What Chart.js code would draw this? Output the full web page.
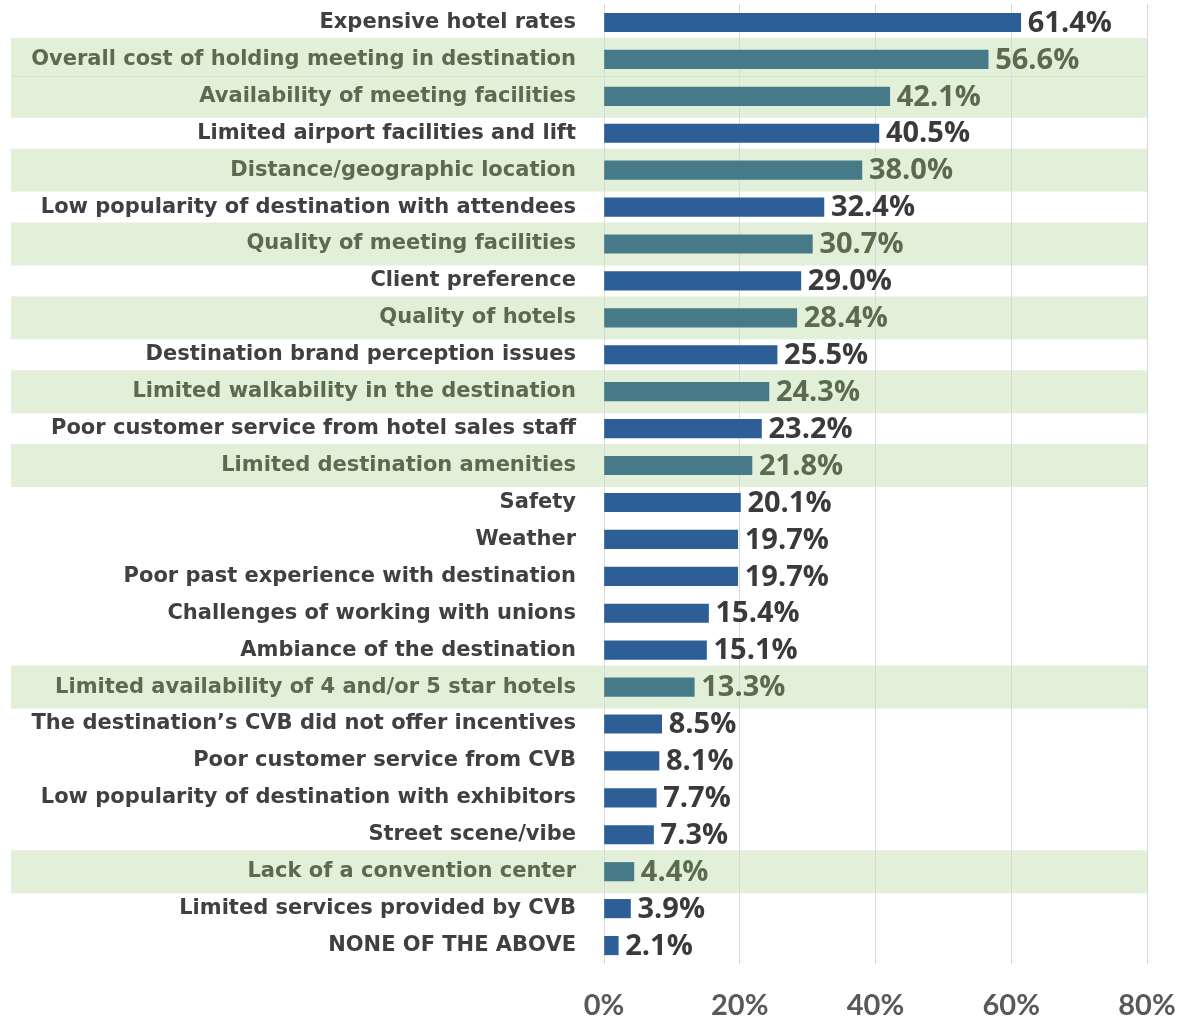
<!DOCTYPE html>
<html>
<head>
<meta charset="utf-8">
<script src="https://cdn.jsdelivr.net/npm/chart.js@4"></script>
<style>
    body { margin: 0; background: #fff; }
    #wrap { width: 1179px; height: 1023px; position: relative; }
</style>
</head>
<body>
<div id="wrap"><canvas id="reasonsChart"></canvas></div>
<script>
const categories = [
    "Expensive hotel rates",
    "Overall cost of holding meeting in destination",
    "Availability of meeting facilities",
    "Limited airport facilities and lift",
    "Distance/geographic location",
    "Low popularity of destination with attendees",
    "Quality of meeting facilities",
    "Client preference",
    "Quality of hotels",
    "Destination brand perception issues",
    "Limited walkability in the destination",
    "Poor customer service from hotel sales staff",
    "Limited destination amenities",
    "Safety",
    "Weather",
    "Poor past experience with destination",
    "Challenges of working with unions",
    "Ambiance of the destination",
    "Limited availability of 4 and/or 5 star hotels",
    "The destination\u2019s CVB did not offer incentives",
    "Poor customer service from CVB",
    "Low popularity of destination with exhibitors",
    "Street scene/vibe",
    "Lack of a convention center",
    "Limited services provided by CVB",
    "NONE OF THE ABOVE",
];
const percents = [61.4, 56.6, 42.1, 40.5, 38.0, 32.4, 30.7, 29.0, 28.4, 25.5, 24.3, 23.2, 21.8,
    20.1, 19.7, 19.7, 15.4, 15.1, 13.3, 8.5, 8.1, 7.7, 7.3, 4.4, 3.9, 2.1];
// rows shaded green in the original
const highlighted = [false, true, true, false, true, false, true, false, true, false, true, false, true,
    false, false, false, false, false, true, false, false, false, false, true, false, false];
const xTicks = [0, 20, 40, 60, 80];

const BLUE = "#2d5f96";
const TEAL = "#477a88";
const BAND = "#e3f0d9";
const TEXT_DARK = "#404040";
const TEXT_GREEN = "#5b6b4d";

// green row shading, painted before the axes so labels sit on top
const rowBands = {
    id: "rowBands",
    beforeDraw(chart) {
        const { ctx, scales: { x, y } } = chart;
        const step = y.getPixelForValue(1) - y.getPixelForValue(0);
        const h = 43;
        const right = x.getPixelForValue(80);
        ctx.save();
        highlighted.forEach((on, i) => {
            if (!on) return;
            const cy = y.getPixelForValue(i);
            ctx.fillStyle = BAND;
            ctx.fillRect(11, cy - h / 2, right - 11, h);
        });
        highlighted.forEach((on, i) => {
            if (!on || !highlighted[i - 1]) return;
            const yy = Math.round(y.getPixelForValue(i) - step / 2 - 2) + 0.5;
            ctx.strokeStyle = "#d3e6c6";
            ctx.lineWidth = 1;
            ctx.beginPath();
            ctx.moveTo(11, yy);
            ctx.lineTo(right, yy);
            ctx.stroke();
        });
        ctx.restore();
    },
};

const valueLabels = {
    id: "valueLabels",
    afterDatasetsDraw(chart) {
        const { ctx } = chart;
        const meta = chart.getDatasetMeta(0);
        ctx.save();
        ctx.font = "700 29px 'Open Sans'";
        ctx.textAlign = "left";
        ctx.textBaseline = "middle";
        meta.data.forEach((bar, i) => {
            ctx.fillStyle = highlighted[i] ? TEXT_GREEN : "#3a3a3a";
            ctx.fillText(percents[i].toFixed(1) + "%", bar.x + 7, bar.y + 1);
        });
        ctx.restore();
    },
};

new Chart(document.getElementById("reasonsChart"), {
    type: "bar",
    data: {
        labels: categories,
        datasets: [{
            data: percents,
            backgroundColor: highlighted.map(h => (h ? TEAL : BLUE)),
            barThickness: 18.5,
        }],
    },
    options: {
        indexAxis: "y",
        responsive: true,
        maintainAspectRatio: false,
        animation: false,
        layout: { padding: { top: 4, right: 32, left: 0, bottom: 0 } },
        plugins: { legend: { display: false }, tooltip: { enabled: false } },
        scales: {
            x: {
                min: 0,
                max: 80,
                afterBuildTicks: (scale) => { scale.ticks = xTicks.map(v => ({ value: v })); },
                grid: { color: "#d9d9d9", drawTicks: false },
                border: { display: false },
                ticks: {
                    padding: 24,
                    color: "#595959",
                    font: { family: "Lato", size: 29, weight: "700" },
                    callback: (v) => v + "%",
                },
                afterFit: (scale) => {
                    scale.height = 59;
                    scale.paddingLeft = 0;
                    scale.paddingRight = 0;
                },
            },
            y: {
                grid: { display: false, drawTicks: false },
                border: { display: false },
                ticks: {
                    padding: 28,
                    autoSkip: false,
                    color: (c) => (highlighted[c.index] ? TEXT_GREEN : TEXT_DARK),
                    font: { family: "DejaVu Sans", size: 21, weight: "700" },
                },
                afterFit: (scale) => {
                    scale.width = 604;
                    scale.paddingTop = 0;
                    scale.paddingBottom = 0;
                },
            },
        },
    },
    plugins: [rowBands, valueLabels],
});
</script>
</body>
</html>
